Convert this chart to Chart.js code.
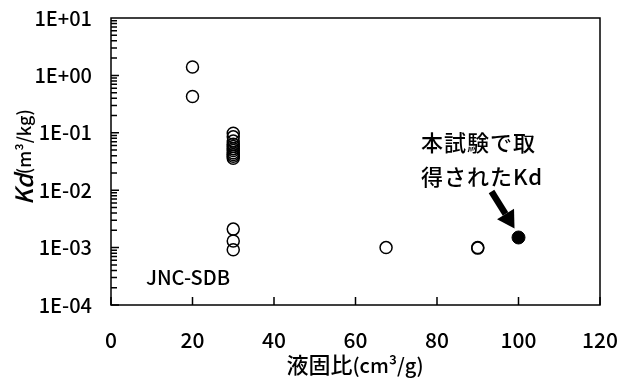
<!DOCTYPE html>
<html>
<head>
<meta charset="utf-8">
<script src="https://cdn.jsdelivr.net/npm/chart.js@4"></script>
<style>
  body { margin: 0; background: #fff; }
  #wrap { width: 622px; height: 381px; }
</style>
</head>
<body>
<div id="wrap"><canvas id="kdChart" width="622" height="381"></canvas></div>
<script>
// literature values (JNC-SDB): liquid/solid ratio vs Kd
const ratioSDB = [20, 20,
  30, 30, 30, 30, 30, 30, 30, 30, 30, 30, 30,
  30, 30, 30,
  67.5, 90, 90];
const kdSDB = [1.4, 0.43,
  0.098, 0.085, 0.072, 0.063, 0.058, 0.053, 0.049, 0.045, 0.042, 0.039, 0.036,
  0.0021, 0.0013, 0.00092,
  0.001, 0.001, 0.00098];

// value obtained in this test
const ratioThis = [100];
const kdThis = [0.0015];

const xTicks = [0, 20, 40, 60, 80, 100, 120];
const yDecades = [1e-4, 1e-3, 1e-2, 1e-1, 1e0, 1e1];

const noteLines = ["本試験で取", "得されたKd"];
const sdbLabel = "JNC-SDB";

const FONT = "'Noto Sans CJK JP', 'Noto Sans', sans-serif";
const W = "500 ";

function toPairs(xs, ys) {
  return xs.map((x, i) => ({ x: x, y: ys[i] }));
}

function expLabel(v) {
  const e = Math.round(Math.log10(v));
  if (Math.abs(Math.log10(v) - e) > 1e-6) return "";
  const s = e < 0 ? "-" : "+";
  return "1E" + s + String(Math.abs(e)).padStart(2, "0");
}

// frame, inward ticks, titles and the annotation
const decorPlugin = {
  id: "decor",
  afterDraw(chart) {
    const ctx = chart.ctx;
    const a = chart.chartArea;
    const xs = chart.scales.x;
    const ys = chart.scales.y;
    ctx.save();
    ctx.strokeStyle = "#000";
    ctx.fillStyle = "#000";
    ctx.lineWidth = 1.5;
    ctx.strokeRect(a.left, a.top, a.right - a.left, a.bottom - a.top);

    // minor ticks on the log axis: 1..9 in every decade
    ctx.lineWidth = 1.5;
    ctx.beginPath();
    for (let d = 0; d < yDecades.length - 1; d++) {
      for (let m = 1; m <= 9; m++) {
        const py = ys.getPixelForValue(yDecades[d] * m);
        ctx.moveTo(a.left, py);
        ctx.lineTo(a.left + (m === 1 ? 8 : 6), py);
      }
    }
    xTicks.forEach((v) => {
      const px = xs.getPixelForValue(v);
      ctx.moveTo(px, a.bottom);
      ctx.lineTo(px, a.bottom - 8);
    });
    ctx.stroke();

    // x title
    ctx.textBaseline = "middle";
    ctx.textAlign = "left";
    const xt1 = "液固比";
    const xt2 = "(cm³/g)";
    ctx.font = W + "22px " + FONT;
    const w1 = ctx.measureText(xt1).width;
    ctx.font = W + "20px " + FONT;
    const w2 = ctx.measureText(xt2).width;
    let sx = 355 - (w1 + w2) / 2;
    ctx.font = W + "22px " + FONT;
    ctx.fillText(xt1, sx, 365);
    ctx.font = W + "20px " + FONT;
    ctx.fillText(xt2, sx + w1, 365);

    // y title (rotated)
    ctx.save();
    ctx.translate(24, 157);
    ctx.rotate(-Math.PI / 2);
    ctx.font = "italic " + W + "24px " + FONT;
    const k1 = ctx.measureText("Kd").width;
    ctx.font = W + "18px " + FONT;
    const k2 = ctx.measureText("(m³/kg)").width;
    let ky = -(k1 + k2) / 2;
    ctx.font = "italic " + W + "24px " + FONT;
    ctx.fillText("Kd", ky, 0);
    ctx.font = W + "18px " + FONT;
    ctx.fillText("(m³/kg)", ky + k1, 0);
    ctx.restore();

    // JNC-SDB label
    ctx.font = W + "20px " + FONT;
    ctx.textAlign = "center";
    ctx.fillText(sdbLabel, 188, 277);

    // note and arrow pointing at this test's value
    const px = xs.getPixelForValue(ratioThis[0]);
    const py = ys.getPixelForValue(kdThis[0]);
    ctx.font = W + "22px " + FONT;
    ctx.textAlign = "left";
    ctx.letterSpacing = "1px";
    ctx.fillText(noteLines[0], 421, 143);
    ctx.fillText(noteLines[1], 421, 177);
    ctx.letterSpacing = "0px";

    const tipX = px - 4, tipY = py - 9;
    const tailX = px - 27, tailY = py - 46;
    const ang = Math.atan2(tipY - tailY, tipX - tailX);
    const headLen = 17, headW = 10;
    const bx = tipX - headLen * Math.cos(ang);
    const by = tipY - headLen * Math.sin(ang);
    ctx.lineWidth = 6.5;
    ctx.beginPath();
    ctx.moveTo(tailX, tailY);
    ctx.lineTo(bx, by);
    ctx.stroke();
    ctx.beginPath();
    ctx.moveTo(tipX, tipY);
    ctx.lineTo(bx + headW * Math.sin(ang), by - headW * Math.cos(ang));
    ctx.lineTo(bx - headW * Math.sin(ang), by + headW * Math.cos(ang));
    ctx.closePath();
    ctx.fill();
    ctx.restore();
  }
};

const ctx = document.getElementById("kdChart").getContext("2d");

// eslint-disable-next-line no-undef
new Chart(ctx, {
  type: "scatter",
  data: {
    datasets: [
      {
        label: "JNC-SDB",
        data: toPairs(ratioSDB, kdSDB),
        pointStyle: "circle",
        pointRadius: 6,
        pointBorderWidth: 1.5,
        pointBorderColor: "#000",
        pointBackgroundColor: "rgba(0,0,0,0)",
      },
      {
        label: "本試験",
        data: toPairs(ratioThis, kdThis),
        pointStyle: "circle",
        pointRadius: 6.5,
        pointBorderWidth: 1,
        pointBorderColor: "#000",
        pointBackgroundColor: "#000",
      },
    ],
  },
  options: {
    responsive: false,
    animation: false,
    devicePixelRatio: 1,
    layout: { padding: { top: 18, right: 22, left: 0, bottom: 0 } },
    plugins: {
      legend: { display: false },
      tooltip: { enabled: false },
    },
    scales: {
      x: {
        type: "linear",
        min: 0,
        max: 120,
        grid: { display: false },
        border: { display: false },
        afterBuildTicks: (s) => { s.ticks = xTicks.map((v) => ({ value: v })); },
        afterFit: (s) => { s.height = 76; s.paddingLeft = 0; s.paddingRight = 0; },
        ticks: {
          color: "#000",
          padding: 14,
          font: { family: FONT, size: 21, weight: "500" },
        },
      },
      y: {
        type: "logarithmic",
        min: yDecades[0],
        max: yDecades[yDecades.length - 1],
        grid: { display: false },
        border: { display: false },
        afterFit: (s) => { s.width = 111; s.paddingTop = 0; s.paddingBottom = 0; },
        ticks: {
          color: "#000",
          padding: 11,
          autoSkip: false,
          font: { family: FONT, size: 20, weight: "500" },
          callback: (v) => expLabel(v),
        },
      },
    },
  },
  plugins: [decorPlugin],
});
</script>
</body>
</html>
